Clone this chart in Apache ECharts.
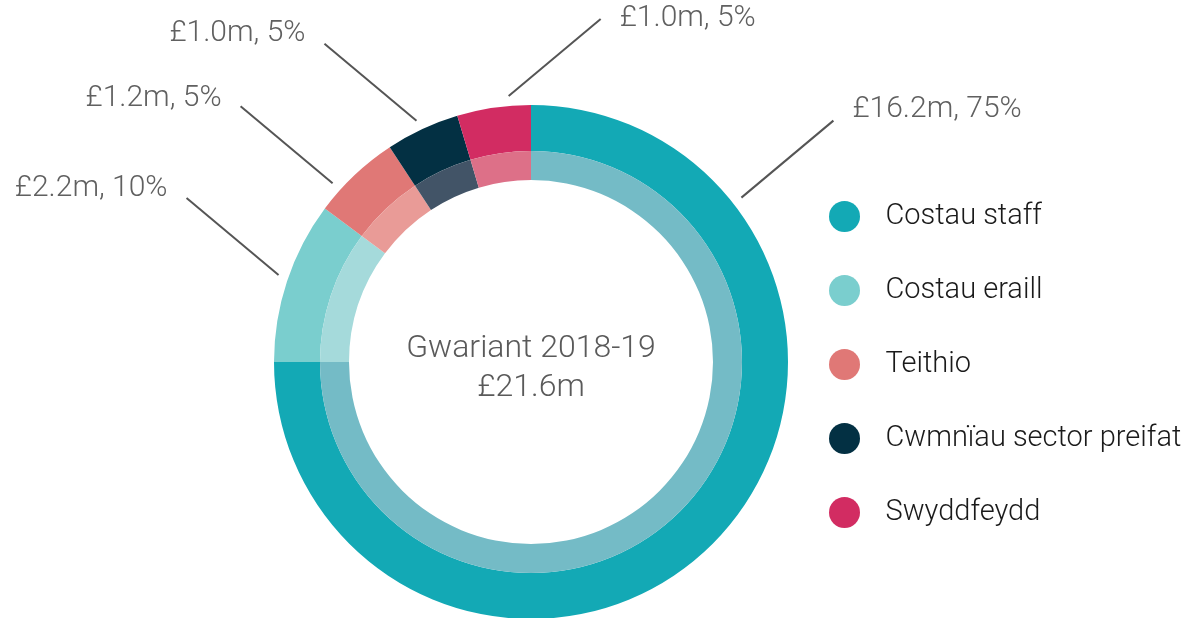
<!DOCTYPE html>
<html>
<head>
<meta charset="utf-8">
<script src="https://cdn.jsdelivr.net/npm/echarts@6/dist/echarts.min.js"></script>
<style>
  html, body { margin: 0; padding: 0; background: #fff; }
  #main { width: 1200px; height: 618px; }
</style>
</head>
<body>
<div id="main"></div>
<script>
// data
const categories = ['Costau staff', 'Costau eraill', 'Teithio', 'Cwmnïau sector preifat', 'Swyddfeydd']
const spend = [16.2, 2.2, 1.2, 1.0, 1.0]          // £m
const shareLabels = ['75%', '10%', '5%', '5%', '5%']
const totalLabel = '£21.6m'
const centerTitle = 'Gwariant 2018-19'

// look
const outerColors = ['#13a9b5', '#7acece', '#e07876', '#033043', '#d22c62']
const innerColors = ['#74bbc6', '#a5dadb', '#e99b97', '#425467', '#dd7088']
const FONT = 'Roboto, "Helvetica Neue", Arial, sans-serif'
const CX = 531, CY = 362

// where each leader line leaves the ring (deg clockwise from 12 o'clock), which way it runs,
// and how far the label text sits above the end of the line
const leaderAngle = [52, -71, -48, -25.4, -4.8]
const leaderSide = [1, -1, -1, -1, 1]
const labelRaise = [11, 10, 8, 10, 0]

const chart = echarts.init(document.getElementById('main'))

const option = {
  animation: false,
  legend: {
    orient: 'vertical',
    left: 824,
    top: 196,
    icon: 'circle',
    itemWidth: 72,
    itemHeight: 31,
    itemGap: 43,
    selectedMode: false,
    data: categories,
    textStyle: {
      fontFamily: FONT,
      fontWeight: 300,
      fontSize: 29,
      color: '#1a1a1a'
    }
  },
  graphic: [
    {
      type: 'text',
      x: CX,
      y: CY + 6,
      style: {
        text: centerTitle + '\n' + totalLabel,
        align: 'center',
        verticalAlign: 'middle',
        fontFamily: FONT,
        fontWeight: 300,
        fontSize: 32,
        lineHeight: 39,
        fill: '#5a5a5a'
      }
    }
  ],
  series: [
    {
      name: 'outer',
      type: 'pie',
      center: [CX, CY],
      radius: [211, 257],
      startAngle: 90,
      clockwise: true,
      avoidLabelOverlap: false,
      emphasis: { scale: false },
      data: categories.map((name, i) => ({
        name: name,
        value: spend[i],
        itemStyle: { color: outerColors[i] }
      })),
      label: {
        show: true,
        position: 'outside',
        fontFamily: FONT,
        fontWeight: 300,
        fontSize: 30,
        color: '#606060',
        formatter: (p) => '£' + spend[p.dataIndex].toFixed(1) + 'm, ' + shareLabels[p.dataIndex]
      },
      labelLine: {
        show: true,
        smooth: false,
        lineStyle: { color: '#555', width: 2 }
      },
      labelLayout: (params) => {
        const i = params.dataIndex
        const a = leaderAngle[i] * Math.PI / 180
        const side = leaderSide[i]
        const r0 = 267
        const sx = CX + r0 * Math.sin(a)
        const sy = CY - r0 * Math.cos(a)
        const ex = sx + side * 92
        const ey = sy - 77
        return {
          x: ex + side * 19,
          y: ey - labelRaise[i],
          align: side > 0 ? 'left' : 'right',
          verticalAlign: 'middle',
          labelLinePoints: [[sx, sy], [ex, ey], [ex, ey]]
        }
      }
    },
    {
      name: 'inner',
      type: 'pie',
      center: [CX, CY],
      radius: [182, 211],
      startAngle: 90,
      clockwise: true,
      silent: true,
      label: { show: false },
      labelLine: { show: false },
      data: categories.map((name, i) => ({
        name: name,
        value: spend[i],
        itemStyle: { color: innerColors[i] }
      }))
    }
  ]
}

chart.setOption(option)
</script>
</body>
</html>
